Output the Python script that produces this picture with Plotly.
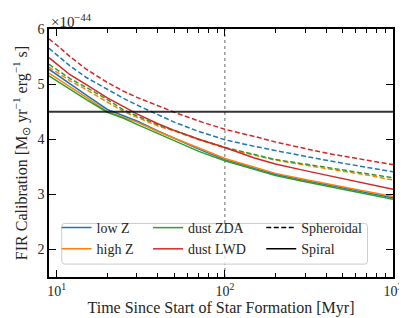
import numpy as np
import plotly.graph_objects as go

# ---- data (units of 1e-44) ----
t = [9, 10, 12, 15, 20, 25, 30, 40, 50, 70, 100, 150, 200, 300, 450, 700, 1000]

lowz_sph  = [5.65, 5.53, 5.33, 5.12, 4.90, 4.74, 4.62, 4.44, 4.31, 4.14, 3.99, 3.87, 3.79, 3.69, 3.59, 3.49, 3.41]
highz_sph = [5.31, 5.22, 5.06, 4.90, 4.68, 4.50, 4.40, 4.24, 4.15, 3.99, 3.84, 3.71, 3.62, 3.53, 3.45, 3.35, 3.26]
zda_sph   = [5.36, 5.27, 5.10, 4.94, 4.72, 4.53, 4.42, 4.26, 4.16, 4.00, 3.85, 3.72, 3.63, 3.55, 3.47, 3.38, 3.30]
lwd_sph   = [5.82, 5.71, 5.50, 5.27, 5.03, 4.87, 4.76, 4.60, 4.49, 4.33, 4.18, 4.05, 3.95, 3.83, 3.72, 3.62, 3.54]

lowz_spi  = [5.27, 5.17, 5.00, 4.80, 4.54, 4.43, 4.33, 4.15, 4.02, 3.82, 3.63, 3.47, 3.36, 3.25, 3.14, 3.03, 2.94]
highz_spi = [5.20, 5.11, 4.95, 4.76, 4.50, 4.40, 4.31, 4.14, 4.02, 3.83, 3.65, 3.49, 3.38, 3.27, 3.16, 3.05, 2.96]
zda_spi   = [5.15, 5.06, 4.90, 4.72, 4.49, 4.38, 4.27, 4.10, 3.97, 3.78, 3.61, 3.45, 3.34, 3.23, 3.12, 3.01, 2.91]
lwd_spi   = [5.48, 5.36, 5.17, 4.99, 4.75, 4.59, 4.46, 4.28, 4.16, 4.00, 3.85, 3.66, 3.55, 3.43, 3.32, 3.20, 3.09]

kennicutt = 4.5
t_mark = 100
x_range = [9, 1000]
y_range = [1.5, 6]
y_ticks = [2, 3, 4, 5, 6]
x_ticks = [10, 100, 1000]
x_ticktext = ["10<sup>1</sup>", "10<sup>2</sup>", "10<sup>3</sup>"]
x_minor = [20, 30, 40, 50, 60, 70, 80, 90, 200, 300, 400, 500, 600, 700, 800, 900]

names = ["low Z", "high Z", "dust ZDA", "dust LWD"]
colors = ["#1f77b4", "#ff7f0e", "#2ca02c", "#d62728"]
sph = [lowz_sph, highz_sph, zda_sph, lwd_sph]
spi = [lowz_spi, highz_spi, zda_spi, lwd_spi]

FONT = "Liberation Serif"
TXT = "#262626"
fig = go.Figure()

# reference lines
fig.add_trace(go.Scatter(x=[t_mark, t_mark], y=y_range, mode="lines",
                         line=dict(color="rgba(128,128,128,0.9)", width=1.3, dash="dot"),
                         showlegend=False, hoverinfo="skip"))

for c, ys in zip(colors, sph):
    fig.add_trace(go.Scatter(x=t, y=ys, mode="lines", line=dict(color=c, width=1.5, dash="5px,2.5px"),
                             showlegend=False))
for n, c, ys in zip(names, colors, spi):
    fig.add_trace(go.Scatter(x=t, y=ys, mode="lines", line=dict(color=c, width=1.5),
                             showlegend=False))

fig.add_trace(go.Scatter(x=x_range, y=[kennicutt, kennicutt], mode="lines",
                         line=dict(color="rgba(0,0,0,0.8)", width=2), showlegend=False))

# legend entries
for i, (n, c) in enumerate(zip(names, colors)):
    fig.add_trace(go.Scatter(x=[None], y=[None], mode="lines", name=n,
                             line=dict(color=c, width=1.5),
                             legend="legend" if i < 2 else "legend2"))
fig.add_trace(go.Scatter(x=[None], y=[None], mode="lines", name="Spheroidal",
                         line=dict(color="black", width=1.5, dash="5px,2.5px"), legend="legend3"))
fig.add_trace(go.Scatter(x=[None], y=[None], mode="lines", name="Spiral",
                         line=dict(color="black", width=1.5), legend="legend3"))

# invisible trace carrying minor ticks on an overlay axis
fig.add_trace(go.Scatter(x=[x_range[0], x_range[1]], y=[y_range[0], y_range[0]], mode="lines",
                         line=dict(width=0, color="rgba(0,0,0,0)"), xaxis="x2",
                         showlegend=False, hoverinfo="skip"))

legcommon = dict(bgcolor="rgba(0,0,0,0)", borderwidth=0, font=dict(family=FONT, size=14, color=TXT),
                 yanchor="top", y=0.262, xanchor="left", tracegroupgap=0, itemwidth=30)

# rounded legend frame in paper coords
W, H = 353.0, 250.0
x0, x1, y0, y1 = 0.037, 0.926, 0.052, 0.216
rx, ry = 3 / W, 3 / H
path = (f"M {x0+rx},{y0} L {x1-rx},{y0} Q {x1},{y0} {x1},{y0+ry} L {x1},{y1-ry} "
        f"Q {x1},{y1} {x1-rx},{y1} L {x0+rx},{y1} Q {x0},{y1} {x0},{y1-ry} "
        f"L {x0},{y0+ry} Q {x0},{y0} {x0+rx},{y0} Z")

logr = [np.log10(x_range[0]), np.log10(x_range[1])]
fig.update_layout(
    width=407, height=318,
    margin=dict(l=37, r=17, t=21, b=47),
    plot_bgcolor="white", paper_bgcolor="white",
    font=dict(family=FONT, size=14, color=TXT),
    xaxis=dict(type="log", range=logr,
               tickmode="array", tickvals=x_ticks, ticktext=x_ticktext, ticks="inside", ticklen=7,
               tickwidth=1, tickcolor="black", showline=True, linecolor="black", linewidth=1.6,
               mirror="ticks", showgrid=False, zeroline=False,
               title=dict(text="Time Since Start of Star Formation [Myr]", standoff=4,
                          font=dict(family=FONT, size=16, color=TXT)),
               tickfont=dict(family=FONT, size=14, color=TXT)),
    xaxis2=dict(type="log", range=logr, overlaying="x", anchor="y", side="bottom",
                tickmode="array", tickvals=x_minor, ticks="inside", ticklen=4, tickwidth=1,
                tickcolor="black", showticklabels=False, showgrid=False, zeroline=False,
                showline=False, mirror="ticks"),
    yaxis=dict(range=y_range, tickvals=y_ticks, ticks="inside", ticklen=7, tickwidth=1,
               tickcolor="black", showline=True, linecolor="black", linewidth=1.6, mirror="ticks",
               showgrid=False, zeroline=False,
               title=dict(text="FIR Calibration [M<sub>⊙</sub> yr<sup>−1</sup> erg<sup>−1</sup> s]",
                          standoff=6, font=dict(family=FONT, size=16, color=TXT)),
               tickfont=dict(family=FONT, size=14, color=TXT)),
    legend=dict(**legcommon, x=0.022),
    legend2=dict(**legcommon, x=0.288),
    legend3=dict(**legcommon, x=0.617),
    shapes=[dict(type="path", path=path, xref="paper", yref="paper",
                 line=dict(color="#cccccc", width=1), fillcolor="rgba(255,255,255,0.8)", layer="above")],
    annotations=[dict(text="×10<sup>−44</sup>", xref="paper", yref="paper", x=0.0, y=1.0,
                      xanchor="left", yanchor="bottom", showarrow=False,
                      font=dict(family=FONT, size=15, color=TXT), yshift=-3)],
)

fig.write_html("out.html")
